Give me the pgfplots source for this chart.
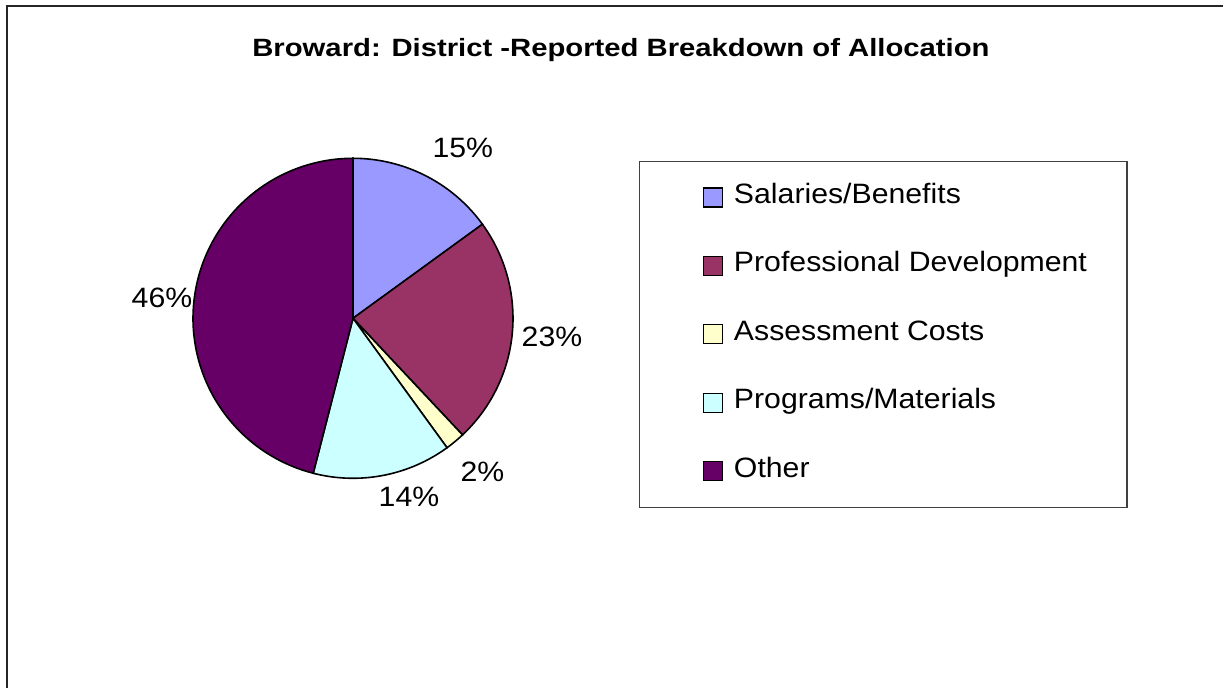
\documentclass[border=0pt]{standalone}
\usepackage{pgfplots}
\pgfplotsset{compat=1.18}
\usepackage{fontspec}
\setmainfont{Liberation Sans}[FakeStretch=1.08]
\newfontfamily\titlefont{Liberation Sans}[FakeStretch=1.17]
\definecolor{cSal}{HTML}{9999FF}
\definecolor{cPD}{HTML}{993366}
\definecolor{cAss}{HTML}{FFFFCC}
\definecolor{cProg}{HTML}{CCFFFF}
\definecolor{cOth}{HTML}{660066}
% shares in percent
\def\pSal{15}\def\pPD{23}\def\pAss{2}\def\pProg{14}\def\pOth{46}
\pgfmathsetmacro{\aA}{90}
\pgfmathsetmacro{\aB}{\aA-3.6*\pSal}
\pgfmathsetmacro{\aC}{\aB-3.6*\pPD}
\pgfmathsetmacro{\aD}{\aC-3.6*\pAss}
\pgfmathsetmacro{\aE}{\aD-3.6*\pProg}
\pgfmathsetmacro{\aF}{\aE-3.6*\pOth}
\begin{document}
\begin{tikzpicture}[x=0.5pt,y=0.5pt]
\useasboundingbox (0,0) rectangle (1223,688);
\begin{scope}
\clip (0,0) rectangle (1223,688);
\draw[line width=1pt, black!85] (6.5,681.5) rectangle (1300,-50);
\end{scope}
\node[font=\titlefont\bfseries\fontsize{12.5}{15}\selectfont, anchor=base] at (621,631.3) {Broward: District -Reported Breakdown of Allocation};
\coordinate (pc) at (353,369.7);
\begin{axis}[at={(pc)}, anchor=center, scale only axis, width=160pt, height=160pt,
  xmin=-1, xmax=1, ymin=-1, ymax=1, hide axis, clip=false,
  legend cell align=left,
  legend style={at={(1.39375,0.9925)}, anchor=north west, draw=black!75, line width=0.6pt,
    inner xsep=20pt, inner ysep=10.6pt, row sep=19.2pt, column sep=5.5pt,
    nodes={font=\fontsize{14}{17}\selectfont, text height=10.5pt, text depth=4.5pt, inner sep=0pt, anchor=west}},
  legend image code/.code={\path (0pt,0pt); \draw[#1, draw=black, line width=0.6pt] (11.5pt,-4.75pt) rectangle (21pt,4.75pt);}
]
\addplot[fill=cSal, draw=black, line width=0.8pt, domain=\aB:\aA, samples=40] ({cos(x)},{sin(x)}) -- (0,0) -- cycle;
\addlegendentry{Salaries/Benefits}
\addplot[fill=cPD, draw=black, line width=0.8pt, domain=\aC:\aB, samples=50] ({cos(x)},{sin(x)}) -- (0,0) -- cycle;
\addlegendentry{Professional Development}
\addplot[fill=cAss, draw=black, line width=0.8pt, domain=\aD:\aC, samples=8] ({cos(x)},{sin(x)}) -- (0,0) -- cycle;
\addlegendentry{Assessment Costs}
\addplot[fill=cProg, draw=black, line width=0.8pt, domain=\aE:\aD, samples=40] ({cos(x)},{sin(x)}) -- (0,0) -- cycle;
\addlegendentry{Programs/Materials}
\addplot[fill=cOth, draw=black, line width=0.8pt, domain=\aF:\aE, samples=90] ({cos(x)},{sin(x)}) -- (0,0) -- cycle;
\addlegendentry{Other}
\end{axis}
\begin{scope}[font=\fontsize{14}{17}\selectfont]
\node[anchor=base] at (462.8,530.7) {15\%};
\node[anchor=base] at (552,341.3) {23\%};
\node[anchor=base] at (482.5,206.3) {2\%};
\node[anchor=base] at (409,181) {14\%};
\node[anchor=base] at (162,380) {46\%};
\end{scope}
\end{tikzpicture}
\end{document}
